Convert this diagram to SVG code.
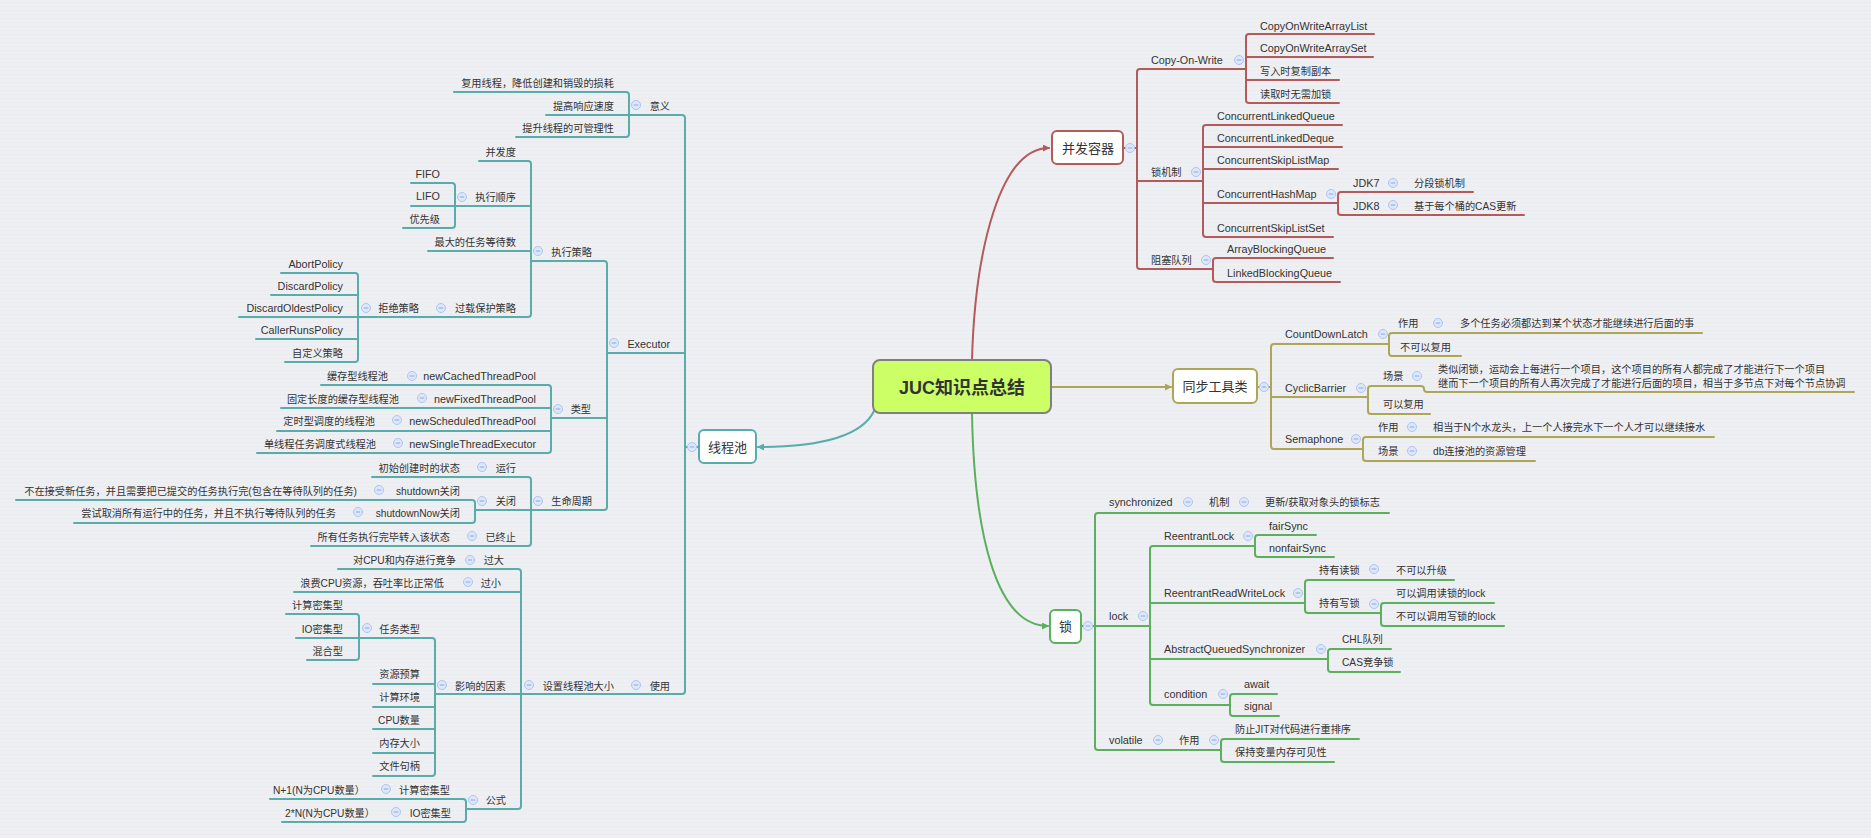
<svg xmlns="http://www.w3.org/2000/svg" xmlns:xlink="http://www.w3.org/1999/xlink" width="1871" height="838" viewBox="0 0 1871 838">
<defs>
<style>
text{font-family:"Liberation Sans","Noto Sans CJK SC",sans-serif;font-size:10.2px;fill:#333}
.l{font-size:10.8px}
.e{text-anchor:end}
.big{font-size:13px;text-anchor:middle}
.root{font-size:18px;font-weight:bold;text-anchor:middle}
.teal{stroke:#5aacaa;fill:none;stroke-width:2;stroke-linecap:round}
.red{stroke:#b35b5b;fill:none;stroke-width:2;stroke-linecap:round}
.olv{stroke:#ada656;fill:none;stroke-width:2;stroke-linecap:round}
.grn{stroke:#5caf5c;fill:none;stroke-width:2;stroke-linecap:round}
.box{fill:#fff;stroke-width:2}
</style>
<pattern id="bg" width="4" height="4" patternUnits="userSpaceOnUse"><rect width="4" height="4" fill="#eeeff2"/><rect y="2" width="4" height="1" fill="#ebecef"/></pattern>
<g id="c"><circle r="4.5" fill="#dde7fb" stroke="#adc5f3" stroke-width="1"/><line x1="-2.3" y1="0" x2="2.3" y2="0" stroke="#8ba9e4" stroke-width="1"/></g>
<marker id="aR" markerWidth="7" markerHeight="7" refX="6" refY="3.5" orient="auto" markerUnits="userSpaceOnUse"><path d="M0,0 L7,3.5 L0,7 z" fill="#b35b5b"/></marker>
<marker id="aO" markerWidth="7" markerHeight="7" refX="6" refY="3.5" orient="auto" markerUnits="userSpaceOnUse"><path d="M0,0 L7,3.5 L0,7 z" fill="#ada656"/></marker>
<marker id="aG" markerWidth="7" markerHeight="7" refX="6" refY="3.5" orient="auto" markerUnits="userSpaceOnUse"><path d="M0,0 L7,3.5 L0,7 z" fill="#5caf5c"/></marker>
<marker id="aT" markerWidth="7" markerHeight="7" refX="6" refY="3.5" orient="auto" markerUnits="userSpaceOnUse"><path d="M0,0 L7,3.5 L0,7 z" fill="#5aacaa"/></marker>
</defs>
<rect width="1871" height="838" fill="url(#bg)"/>

<g id="connectors">
<path class="red" d="M972 360 C975 250 1000 148 1049 148" marker-end="url(#aR)"/>
<path class="olv" d="M1051 387 H1171" marker-end="url(#aO)"/>
<path class="grn" d="M972 413 C974 530 995 626 1048 626" marker-end="url(#aG)"/>
<path class="teal" d="M874 411 C860 440 810 447 758 447" marker-end="url(#aT)"/>

<path class="red" d="M1123 148 H1137 M1246 69 H1140 Q1137 69 1137 72 V266 Q1137 269 1140 269 H1213 M1137 181 H1203"/>
<path class="red" d="M1374 34 H1249 Q1246 34 1246 37 V100 Q1246 103 1249 103 H1339 M1246 57 H1373 M1246 80 H1339"/>
<path class="red" d="M1342 125 H1206 Q1203 125 1203 128 V234 Q1203 237 1206 237 H1333 M1203 147 H1342 M1203 169 H1338 M1203 203 H1338"/>
<path class="red" d="M1473 192 H1341 Q1338 192 1338 195 V212 Q1338 215 1341 215 H1524"/>
<path class="red" d="M1333 258 H1216 Q1213 258 1213 261 V279 Q1213 282 1216 282 H1340"/>

<path class="olv" d="M1257 387 H1271 M1389 344 H1274 Q1271 344 1271 347 V446 Q1271 449 1274 449 H1363 M1271 397 H1368"/>
<path class="olv" d="M1702 333 H1392 Q1389 333 1389 336 V353 Q1389 356 1392 356 H1461"/>
<path class="olv" d="M1371 386 H1421 Q1424 386 1424 389 Q1424 392 1427 392 H1854 M1371 386 Q1368 386 1368 389 V411 Q1368 414 1371 414 H1430"/>
<path class="olv" d="M1714 437 H1366 Q1363 437 1363 440 V458 Q1363 461 1366 461 H1535"/>

<path class="grn" d="M1081 626 H1095 M1389 513 H1098 Q1095 513 1095 516 V747 Q1095 750 1098 750 H1221 M1095 626 H1150"/>
<path class="grn" d="M1255 546 H1153 Q1150 546 1150 549 V702 Q1150 705 1153 705 H1230 M1150 603 H1305 M1150 659 H1328"/>
<path class="grn" d="M1316 535 H1258 Q1255 535 1255 538 V554 Q1255 557 1258 557 H1334"/>
<path class="grn" d="M1454 580 H1308 Q1305 580 1305 583 V610 Q1305 613 1308 613 H1381"/>
<path class="grn" d="M1494 603 H1384 Q1381 603 1381 606 V623 Q1381 626 1384 626 H1504"/>
<path class="grn" d="M1391 649 H1331 Q1328 649 1328 652 V669 Q1328 672 1331 672 H1400"/>
<path class="grn" d="M1277 694 H1233 Q1230 694 1230 697 V713 Q1230 716 1233 716 H1279"/>
<path class="grn" d="M1359 739 H1224 Q1221 739 1221 742 V759 Q1221 762 1224 762 H1334"/>

<path class="teal" d="M699 447 H685 M546 115 H682 Q685 115 685 118 V691 Q685 694 682 694 H521 M685 353 H607"/>
<path class="teal" d="M454 92 H626 Q629 92 629 95 V134 Q629 137 626 137 H516"/>
<path class="teal" d="M531 261 H604 Q607 261 607 264 V507 Q607 510 604 510 H531 M607 418 H551"/>
<path class="teal" d="M479 161 H528 Q531 161 531 164 V314 Q531 317 528 317 H239 M531 206 H411 M531 251 H428"/>
<path class="teal" d="M411 183 H452 Q455 183 455 186 V225 Q455 228 452 228 H403"/>
<path class="teal" d="M281 273 H355 Q358 273 358 276 V359 Q358 362 355 362 H285 M358 295 H271 M358 339 H256"/>
<path class="teal" d="M321 385 H548 Q551 385 551 388 V450 Q551 453 548 453 H257 M551 408 H281 M551 431 H277"/>
<path class="teal" d="M372 477 H528 Q531 477 531 480 V543 Q531 546 528 546 H311 M531 510 H475"/>
<path class="teal" d="M16 500 H472 Q475 500 475 503 V520 Q475 523 472 523 H74"/>
<path class="teal" d="M338 569 H518 Q521 569 521 572 V806 Q521 809 518 809 H466 M521 592 H294 M521 694 H435"/>
<path class="teal" d="M359 638 H432 Q435 638 435 641 V773 Q435 776 432 776 H373 M435 684 H373 M435 707 H373 M435 729 H373 M435 753 H373"/>
<path class="teal" d="M286 614 H356 Q359 614 359 617 V657 Q359 660 356 660 H307 M359 638 H296"/>
<path class="teal" d="M270 799 H463 Q466 799 466 802 V819 Q466 822 463 822 H282"/>
</g>

<g id="root"><rect x="873" y="360" width="178" height="53" rx="7" fill="#ccff66" stroke="#808080" stroke-width="2"/><text class="root" x="962" y="394">JUC知识点总结</text></g>

<g id="n-bfrq"><rect class="box" x="1052" y="131" width="71" height="33" rx="5" stroke="#b35b5b"/><text class="big" x="1088" y="153">并发容器</text><use xlink:href="#c" x="1130" y="148"/></g>
<g id="n-cow"><text class="l" x="1151" y="64">Copy-On-Write</text><use xlink:href="#c" x="1239" y="60"/></g>
<g id="n-cowal"><text class="l" x="1260" y="30">CopyOnWriteArrayList</text></g>
<g id="n-cowas"><text class="l" x="1260" y="52">CopyOnWriteArraySet</text></g>
<g id="n-cow3"><text x="1260" y="75">写入时复制副本</text></g>
<g id="n-cow4"><text x="1260" y="98">读取时无需加锁</text></g>
<g id="n-sjz"><text x="1151" y="176">锁机制</text><use xlink:href="#c" x="1196" y="172"/></g>
<g id="n-clq"><text class="l" x="1217" y="120">ConcurrentLinkedQueue</text></g>
<g id="n-cld"><text class="l" x="1217" y="142">ConcurrentLinkedDeque</text></g>
<g id="n-cslm"><text class="l" x="1217" y="164">ConcurrentSkipListMap</text></g>
<g id="n-chm"><text class="l" x="1217" y="198">ConcurrentHashMap</text><use xlink:href="#c" x="1331" y="194"/></g>
<g id="n-jdk7"><text class="l" x="1353" y="187">JDK7</text><use xlink:href="#c" x="1393" y="183"/><text x="1414" y="187">分段锁机制</text></g>
<g id="n-jdk8"><text class="l" x="1353" y="210">JDK8</text><use xlink:href="#c" x="1393" y="205"/><text x="1414" y="210">基于每个桶的CAS更新</text></g>
<g id="n-csls"><text class="l" x="1217" y="232">ConcurrentSkipListSet</text></g>
<g id="n-zsdl"><text x="1151" y="264">阻塞队列</text><use xlink:href="#c" x="1206" y="260"/></g>
<g id="n-abq"><text class="l" x="1227" y="253">ArrayBlockingQueue</text></g>
<g id="n-lbq"><text class="l" x="1227" y="277">LinkedBlockingQueue</text></g>

<g id="n-tbgj"><rect class="box" x="1173" y="369" width="84" height="34" rx="5" stroke="#ada656"/><text class="big" x="1215" y="391">同步工具类</text><use xlink:href="#c" x="1264" y="387"/></g>
<g id="n-cdl"><text class="l" x="1285" y="338">CountDownLatch</text><use xlink:href="#c" x="1383" y="334"/></g>
<g id="n-cdl1"><text x="1398" y="327">作用</text><use xlink:href="#c" x="1438" y="323"/><text x="1460" y="327">多个任务必须都达到某个状态才能继续进行后面的事</text></g>
<g id="n-cdl2"><text x="1400" y="351">不可以复用</text></g>
<g id="n-cb"><text class="l" x="1285" y="392">CyclicBarrier</text><use xlink:href="#c" x="1361" y="388"/></g>
<g id="n-cb1"><text x="1383" y="380">场景</text><use xlink:href="#c" x="1417" y="376"/><text x="1438" y="373">类似闭锁，运动会上每进行一个项目，这个项目的所有人都完成了才能进行下一个项目</text><text x="1438" y="387">继而下一个项目的所有人再次完成了才能进行后面的项目，相当于多节点下对每个节点协调</text></g>
<g id="n-cb2"><text x="1383" y="408">可以复用</text></g>
<g id="n-sem"><text class="l" x="1285" y="443">Semaphone</text><use xlink:href="#c" x="1356" y="439"/></g>
<g id="n-sem1"><text x="1378" y="431">作用</text><use xlink:href="#c" x="1412" y="427"/><text x="1433" y="431">相当于N个水龙头，上一个人接完水下一个人才可以继续接水</text></g>
<g id="n-sem2"><text x="1378" y="455">场景</text><use xlink:href="#c" x="1412" y="451"/><text x="1433" y="455">db连接池的资源管理</text></g>

<g id="n-suo"><rect class="box" x="1050" y="610" width="31" height="33" rx="5" stroke="#5caf5c"/><text class="big" x="1065.5" y="631">锁</text><use xlink:href="#c" x="1088" y="626"/></g>
<g id="n-sync"><text class="l" x="1109" y="506">synchronized</text><use xlink:href="#c" x="1188" y="502"/><text x="1209" y="506">机制</text><use xlink:href="#c" x="1244" y="502"/><text x="1265" y="506">更新/获取对象头的锁标志</text></g>
<g id="n-lock"><text class="l" x="1109" y="620">lock</text><use xlink:href="#c" x="1143" y="616"/></g>
<g id="n-rl"><text class="l" x="1164" y="540">ReentrantLock</text><use xlink:href="#c" x="1248" y="536"/></g>
<g id="n-fair"><text class="l" x="1269" y="530">fairSync</text></g>
<g id="n-nonfair"><text class="l" x="1269" y="552">nonfairSync</text></g>
<g id="n-rrwl"><text class="l" x="1164" y="597">ReentrantReadWriteLock</text><use xlink:href="#c" x="1298" y="593"/></g>
<g id="n-rd"><text x="1319" y="574">持有读锁</text><use xlink:href="#c" x="1374" y="569"/><text x="1396" y="574">不可以升级</text></g>
<g id="n-wr"><text x="1319" y="607">持有写锁</text><use xlink:href="#c" x="1374" y="604"/></g>
<g id="n-wr1"><text x="1396" y="597">可以调用读锁的lock</text></g>
<g id="n-wr2"><text x="1396" y="620">不可以调用写锁的lock</text></g>
<g id="n-aqs"><text class="l" x="1164" y="653">AbstractQueuedSynchronizer</text><use xlink:href="#c" x="1321" y="649"/></g>
<g id="n-chl"><text x="1342" y="643">CHL队列</text></g>
<g id="n-cas"><text x="1342" y="666">CAS竞争锁</text></g>
<g id="n-cond"><text class="l" x="1164" y="698">condition</text><use xlink:href="#c" x="1223" y="694"/></g>
<g id="n-await"><text class="l" x="1244" y="688">await</text></g>
<g id="n-signal"><text class="l" x="1244" y="710">signal</text></g>
<g id="n-vol"><text class="l" x="1109" y="744">volatile</text><use xlink:href="#c" x="1158" y="740"/><text x="1179" y="744">作用</text><use xlink:href="#c" x="1214" y="740"/></g>
<g id="n-vol1"><text x="1235" y="733">防止JIT对代码进行重排序</text></g>
<g id="n-vol2"><text x="1235" y="756">保持变量内存可见性</text></g>

<g id="n-xcc"><rect class="box" x="699" y="430" width="57" height="33" rx="5" stroke="#5aacaa"/><text class="big" x="727.5" y="452">线程池</text><use xlink:href="#c" x="692" y="447"/></g>
<g id="n-yy"><text class="e" x="670" y="110">意义</text><use xlink:href="#c" x="636" y="105"/></g>
<g id="n-yy1"><text class="e" x="614" y="87">复用线程，降低创建和销毁的损耗</text></g>
<g id="n-yy2"><text class="e" x="614" y="110">提高响应速度</text></g>
<g id="n-yy3"><text class="e" x="614" y="132">提升线程的可管理性</text></g>
<g id="n-exec"><text class="e l" x="670" y="348">Executor</text><use xlink:href="#c" x="614" y="343"/></g>
<g id="n-zxcl"><text class="e" x="592" y="256">执行策略</text><use xlink:href="#c" x="538" y="251"/></g>
<g id="n-bfd"><text class="e" x="516" y="156">并发度</text></g>
<g id="n-zxsx"><text class="e" x="516" y="201">执行顺序</text><use xlink:href="#c" x="462" y="197"/></g>
<g id="n-fifo"><text class="e l" x="440" y="178">FIFO</text></g>
<g id="n-lifo"><text class="e l" x="440" y="200">LIFO</text></g>
<g id="n-yxj"><text class="e" x="440" y="223">优先级</text></g>
<g id="n-zdrw"><text class="e" x="516" y="246">最大的任务等待数</text></g>
<g id="n-gzbh"><text class="e" x="516" y="312">过载保护策略</text><use xlink:href="#c" x="441" y="308"/></g>
<g id="n-jjcl"><text class="e" x="419" y="312">拒绝策略</text><use xlink:href="#c" x="366" y="308"/></g>
<g id="n-abort"><text class="e l" x="343" y="268">AbortPolicy</text></g>
<g id="n-disc"><text class="e l" x="343" y="290">DiscardPolicy</text></g>
<g id="n-disco"><text class="e l" x="343" y="312">DiscardOldestPolicy</text></g>
<g id="n-caller"><text class="e l" x="343" y="334">CallerRunsPolicy</text></g>
<g id="n-zdy"><text class="e" x="343" y="357">自定义策略</text></g>
<g id="n-lx"><text class="e" x="591" y="413">类型</text><use xlink:href="#c" x="558" y="409"/></g>
<g id="n-t1"><text class="e l" x="536" y="380">newCachedThreadPool</text><use xlink:href="#c" x="412" y="376"/><text class="e" x="388" y="380">缓存型线程池</text></g>
<g id="n-t2"><text class="e l" x="536" y="403">newFixedThreadPool</text><use xlink:href="#c" x="422" y="398"/><text class="e" x="399" y="403">固定长度的缓存型线程池</text></g>
<g id="n-t3"><text class="e l" x="536" y="425">newScheduledThreadPool</text><use xlink:href="#c" x="397" y="420"/><text class="e" x="375" y="425">定时型调度的线程池</text></g>
<g id="n-t4"><text class="e l" x="536" y="448">newSingleThreadExecutor</text><use xlink:href="#c" x="398" y="443"/><text class="e" x="376" y="448">单线程任务调度式线程池</text></g>
<g id="n-smzq"><text class="e" x="592" y="505">生命周期</text><use xlink:href="#c" x="538" y="501"/></g>
<g id="n-yx"><text class="e" x="516" y="472">运行</text><use xlink:href="#c" x="482" y="467"/><text class="e" x="460" y="472">初始创建时的状态</text></g>
<g id="n-gb"><text class="e" x="516" y="505">关闭</text><use xlink:href="#c" x="482" y="501"/></g>
<g id="n-sd"><text class="e" x="460" y="495">shutdown关闭</text><use xlink:href="#c" x="379" y="490"/><text class="e" x="357" y="495">不在接受新任务，并且需要把已提交的任务执行完(包含在等待队列的任务)</text></g>
<g id="n-sdn"><text class="e" x="460" y="517">shutdownNow关闭</text><use xlink:href="#c" x="358" y="512"/><text class="e" x="336" y="517">尝试取消所有运行中的任务，并且不执行等待队列的任务</text></g>
<g id="n-yzz"><text class="e" x="516" y="541">已终止</text><use xlink:href="#c" x="472" y="536"/><text class="e" x="450" y="541">所有任务执行完毕转入该状态</text></g>
<g id="n-sy"><text class="e" x="670" y="690">使用</text><use xlink:href="#c" x="636" y="685"/></g>
<g id="n-szdx"><text class="e" x="614" y="690">设置线程池大小</text><use xlink:href="#c" x="529" y="685"/></g>
<g id="n-gd"><text class="e" x="504" y="564">过大</text><use xlink:href="#c" x="470" y="560"/><text class="e" x="456" y="564">对CPU和内存进行竞争</text></g>
<g id="n-gx"><text class="e" x="501" y="587">过小</text><use xlink:href="#c" x="468" y="582"/><text class="e" x="444" y="587">浪费CPU资源，吞吐率比正常低</text></g>
<g id="n-yxys"><text class="e" x="506" y="690">影响的因素</text><use xlink:href="#c" x="442" y="685"/></g>
<g id="n-rwlx"><text class="e" x="420" y="633">任务类型</text><use xlink:href="#c" x="367" y="628"/></g>
<g id="n-jsmj"><text class="e" x="343" y="609">计算密集型</text></g>
<g id="n-iomj"><text class="e" x="343" y="633">IO密集型</text></g>
<g id="n-hhx"><text class="e" x="343" y="655">混合型</text></g>
<g id="n-zyys"><text class="e" x="420" y="678">资源预算</text></g>
<g id="n-jshj"><text class="e" x="420" y="701">计算环境</text></g>
<g id="n-cpu"><text class="e" x="420" y="724">CPU数量</text></g>
<g id="n-nc"><text class="e" x="420" y="747">内存大小</text></g>
<g id="n-wj"><text class="e" x="420" y="770">文件句柄</text></g>
<g id="n-gs"><text class="e" x="506" y="804">公式</text><use xlink:href="#c" x="473" y="800"/></g>
<g id="n-gs1"><text class="e" x="450" y="794">计算密集型</text><use xlink:href="#c" x="386" y="789"/><text class="e" x="365" y="794">N+1(N为CPU数量）</text></g>
<g id="n-gs2"><text class="e" x="451" y="817">IO密集型</text><use xlink:href="#c" x="396" y="812"/><text class="e" x="375" y="817">2*N(N为CPU数量）</text></g>
</svg>
